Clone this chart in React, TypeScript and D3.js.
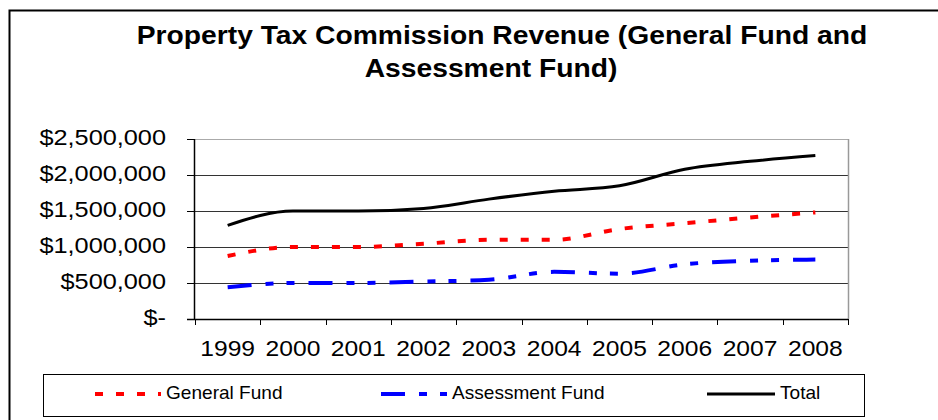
import React from 'react';
import * as d3 from 'd3';

const years = ['1999', '2000', '2001', '2002', '2003', '2004', '2005', '2006', '2007', '2008'];
const generalFund = [875000, 1000000, 1000000, 1045000, 1100000, 1100000, 1250000, 1330000, 1410000, 1480000];
const assessmentFund = [440000, 500000, 500000, 520000, 545000, 655000, 630000, 760000, 810000, 825000];
const total = [1300000, 1500000, 1500000, 1535000, 1665000, 1775000, 1850000, 2080000, 2190000, 2270000];
const yTicks = [0, 500000, 1000000, 1500000, 2000000, 2500000];
const titleLines = ['Property Tax Commission Revenue (General Fund and', 'Assessment Fund)'];
const seriesNames = ['General Fund', 'Assessment Fund', 'Total'];

const W = 938;
const H = 420;
const plot = { left: 195, right: 848, top: 139, bottom: 319 };
const FONT = 'Liberation Sans, Arial, sans-serif';

type TProps = { x: number; y: number; size: number; sx?: number; anchor?: string; weight?: string; children: React.ReactNode };
const T = ({ x, y, size, sx = 1, anchor = 'start', weight = 'normal', children }: TProps) => (
  <text
    transform={`translate(${x},${y}) scale(${sx},1)`}
    fontFamily={FONT}
    fontSize={size}
    fontWeight={weight}
    textAnchor={anchor}
    dominantBaseline="middle"
    fill="#000"
  >
    {children}
  </text>
);

export default function App() {
  const x = d3.scaleBand<string>().domain(years).range([plot.left, plot.right]).padding(0);
  const y = d3.scaleLinear().domain([0, 2500000]).range([plot.bottom, plot.top]);
  const cx = (d: string) => (x(d) as number) + x.bandwidth() / 2;

  const line = (vals: number[]) =>
    d3
      .line<number>()
      .x((_, i) => cx(years[i]))
      .y((v) => y(v))
      .curve(d3.curveMonotoneX)(vals) as string;

  const fmt = (v: number) => (v === 0 ? '$-' : '$' + d3.format(',')(v));
  const boundaries = d3.range(years.length + 1).map((i) => plot.left + i * x.bandwidth());

  const series = [
    { name: seriesNames[0], vals: generalFund, color: '#ff0000', width: 4, dash: '8,13', lx: [95, 161], tx: 166 },
    { name: seriesNames[1], vals: assessmentFund, color: '#0000ff', width: 4, dash: '24,14,8,13,8,14', lx: [381, 447], tx: 452 },
    { name: seriesNames[2], vals: total, color: '#000000', width: 3, dash: undefined, lx: [707, 775], tx: 780 },
  ];

  return (
    <svg width={W} height={H} style={{ position: 'absolute', left: 0, top: 0, background: '#fff' }}>
      <rect x={0} y={0} width={W} height={H} fill="#fff" />
      {/* outer frame */}
      <rect x={9.5} y={10.5} width={W + 20} height={H + 20} fill="none" stroke="#000" strokeWidth={2} />

      {/* title */}
      <T x={502} y={37} size={25} sx={1.13} anchor="middle" weight="bold">{titleLines[0]}</T>
      <T x={491} y={70} size={25} sx={1.13} anchor="middle" weight="bold">{titleLines[1]}</T>

      {/* gridlines */}
      {yTicks.slice(1).map((t) => (
        <line key={t} x1={plot.left} x2={plot.right} y1={Math.round(y(t)) + 0.5} y2={Math.round(y(t)) + 0.5} stroke={t === 2500000 ? '#aaa' : '#333'} strokeWidth={1} />
      ))}
      {/* plot right border */}
      <line x1={plot.right + 0.5} x2={plot.right + 0.5} y1={plot.top} y2={plot.bottom} stroke="#999" strokeWidth={1.5} />

      {/* y axis */}
      <line x1={plot.left - 0.5} x2={plot.left - 0.5} y1={plot.top} y2={plot.bottom} stroke="#000" strokeWidth={1.5} />
      {yTicks.map((t) => (
        <g key={t}>
          <line x1={plot.left - 8} x2={plot.left} y1={Math.round(y(t)) + 0.5} y2={Math.round(y(t)) + 0.5} stroke="#000" strokeWidth={1} />
          <T x={166} y={y(t)} size={22} sx={1.15} anchor="end">{fmt(t)}</T>
        </g>
      ))}

      {/* x axis */}
      <line x1={plot.left - 8} x2={plot.right} y1={plot.bottom + 0.5} y2={plot.bottom + 0.5} stroke="#000" strokeWidth={1.5} />
      {boundaries.map((b, i) => (
        <line key={i} x1={Math.round(b) + 0.5} x2={Math.round(b) + 0.5} y1={plot.bottom} y2={plot.bottom + 6} stroke="#000" strokeWidth={1} />
      ))}
      {years.map((yr) => (
        <T key={yr} x={cx(yr)} y={350} size={22} sx={1.12} anchor="middle">{yr}</T>
      ))}

      {/* series */}
      {series.map((s) => (
        <path key={s.name} d={line(s.vals)} fill="none" stroke={s.color} strokeWidth={s.width} strokeDasharray={s.dash} strokeLinecap="butt" strokeLinejoin="round" />
      ))}

      {/* legend */}
      <rect x={43.5} y={374.5} width={821} height={42} fill="#fff" stroke="#000" strokeWidth={1} />
      {series.map((s) => (
        <g key={s.name}>
          <line x1={s.lx[0]} x2={s.lx[1]} y1={394} y2={394} stroke={s.color} strokeWidth={s.width} strokeDasharray={s.dash} />
          <T x={s.tx} y={394} size={18} sx={1.06}>{s.name}</T>
        </g>
      ))}
    </svg>
  );
}
